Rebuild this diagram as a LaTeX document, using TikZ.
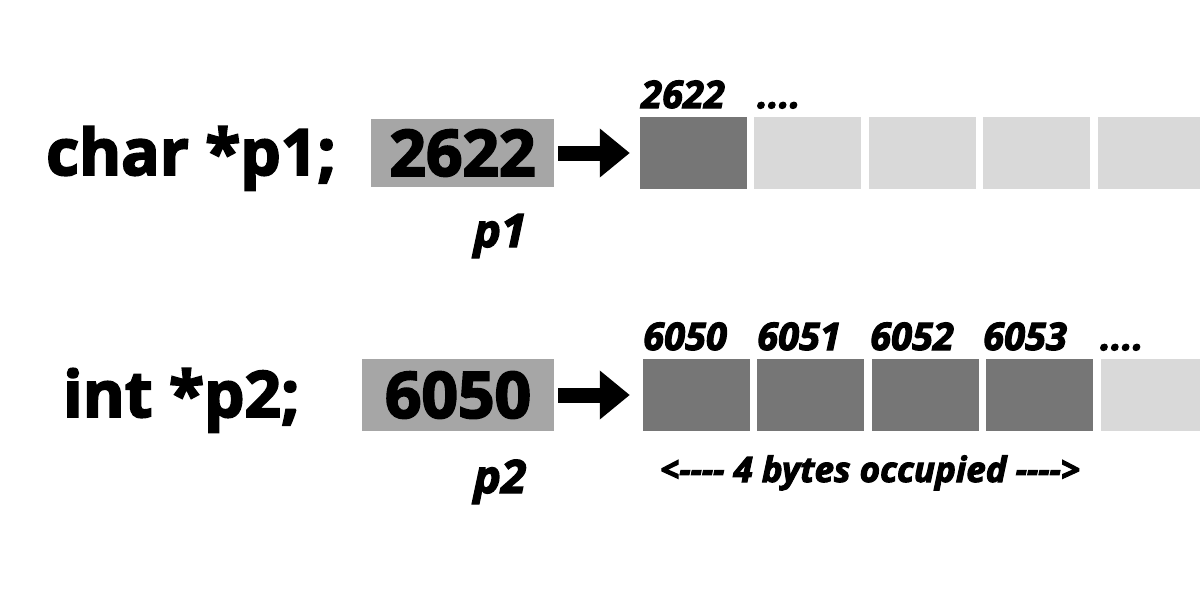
\documentclass[tikz,border=0pt]{standalone}
\usepackage{fontspec}
\setmainfont{Open Sans}[BoldFeatures={FakeBold=3}, BoldItalicFeatures={FakeBold=3}]
\usetikzlibrary{arrows.meta,positioning}
\definecolor{ptrgray}{HTML}{A6A6A6}
\definecolor{usedgray}{HTML}{767676}
\definecolor{freegray}{HTML}{D9D9D9}
\tikzset{>=latex}
\tikzset{decl/.style={anchor=base west, inner sep=0, font=\fontsize{64}{70}\selectfont\bfseries}}
\tikzset{ptrbox/.style={fill=ptrgray, inner sep=0, font=\fontsize{64}{70}\selectfont\bfseries}}
\tikzset{used/.style={fill=usedgray, inner sep=0, minimum width=107pt, minimum height=72pt}}
\tikzset{free/.style={fill=freegray, inner sep=0, minimum width=107pt, minimum height=72pt}}
\tikzset{addr/.style={anchor=base west, inner sep=0, font=\fontsize{38}{42}\selectfont\bfseries\itshape}}
\tikzset{sizenote/.style={anchor=base, inner sep=0, font=\fontsize{35}{40}\selectfont\bfseries\itshape}}
\tikzset{ptrname/.style={anchor=base, inner sep=0, font=\fontsize{46}{50}\selectfont\bfseries\itshape}}
\tikzset{ptrarrow/.style={line width=15pt, -{Triangle[length=30pt, width=47pt]}}}

\begin{document}
\begin{tikzpicture}[x=1pt,y=-1pt]
      \useasboundingbox (0,0) rectangle (1200,600);
      % char pointer
      \node[decl] (d1) at (46,175) {char *p1;};
      \node[ptrbox, minimum width=183pt, minimum height=68pt] (p1) at (462.5,153) {2622};
      \node[ptrname] (n1) at (500,247) {p1};
      \node[used] (a1) at (693.5,153) {};
      \node[free, right=7pt of a1] (a2) {};
      \node[free, right=7pt of a2] (a3) {};
      \node[free, right=7pt of a3] (a4) {};
      \node[free, right=7pt of a4] (a5) {};
      \node[addr] (l1) at (641,108) {2622};
      \node[addr] (l2) at (757,108) {....};
      \draw[ptrarrow, shorten <=4pt, shorten >=10pt] (p1.east) -- (a1.west);
      % int pointer
      \node[decl] (d2) at (63,417) {int *p2;};
      \node[ptrbox, minimum width=192pt, minimum height=72pt] (p2) at (458,395) {6050};
      \node[ptrname] (n2) at (500,493) {p2};
      \node[used] (b1) at (696.5,395) {};
      \node[used, right=7pt of b1] (b2) {};
      \node[used, right=7pt of b2] (b3) {};
      \node[used, right=7pt of b3] (b4) {};
      \node[free, right=7pt of b4] (b5) {};
      \node[addr] (k1) at (643,350) {6050};
      \node[addr] (k2) at (757,350) {6051};
      \node[addr] (k3) at (870,350) {6052};
      \node[addr] (k4) at (983,350) {6053};
      \node[addr] (k5) at (1100,350) {....};
      \draw[ptrarrow, shorten <=4pt, shorten >=13pt] (p2.east) -- (b1.west);
      \node[sizenote] (size) at (870,482) {<-{}-{}-{}- 4 bytes occupied -{}-{}-{}->};
    \end{tikzpicture}
\end{document}
